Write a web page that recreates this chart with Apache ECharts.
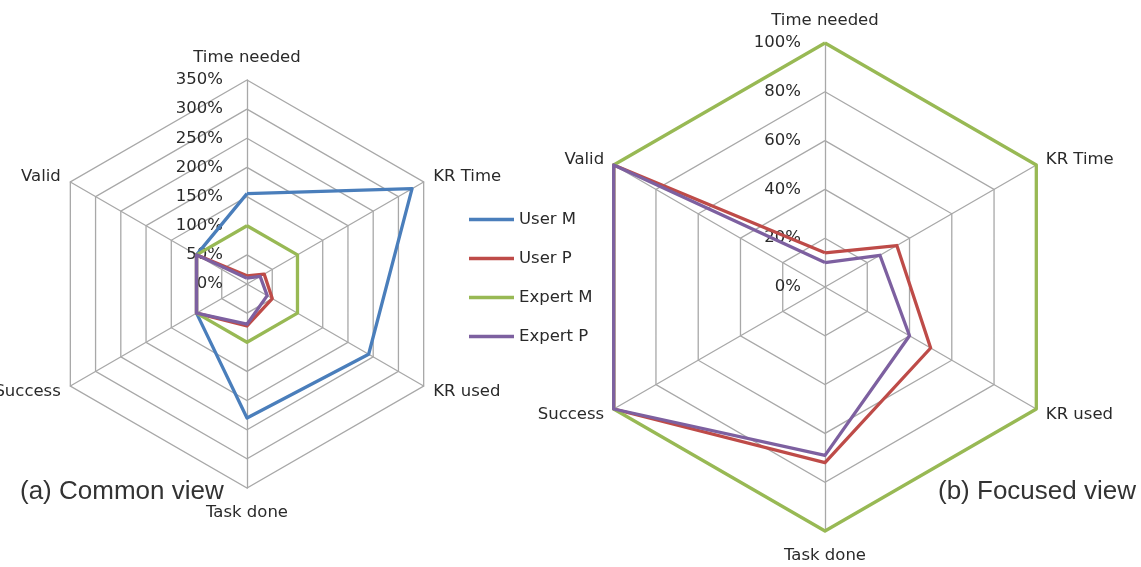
<!DOCTYPE html>
<html>
<head>
<meta charset="utf-8">
<script src="https://cdn.jsdelivr.net/npm/echarts@6/dist/echarts.min.js"></script>
<style>
html,body{margin:0;padding:0;background:#fff;}
#chart{width:1141px;height:567px;}
</style>
</head>
<body>
<div id="chart"></div>
<script>
// Axes, clockwise from the top
const categories = ['Time needed', 'KR Time', 'KR used', 'Task done', 'Success', 'Valid'];
const seriesNames = ['User M', 'User P', 'Expert M', 'Expert P'];

// (a) Common view, values in %
const commonUserM   = [155, 327, 241, 230, 100, 100];
const commonUserP   = [14, 34, 50, 72, 100, 100];
const commonExpertM = [100, 100, 100, 100, 100, 100];
const commonExpertP = [10, 26, 40, 69, 100, 100];

// (b) Focused view, values in %
const focusUserP   = [14, 34, 50, 72, 100, 100];
const focusExpertM = [100, 100, 100, 100, 100, 100];
const focusExpertP = [10, 26, 40, 69, 100, 100];

const commonMax = 350, commonSplit = 7;
const focusMax = 100, focusSplit = 5;

const colors = {
  'User M': '#4A7EBB',
  'User P': '#BE4B48',
  'Expert M': '#98B954',
  'Expert P': '#7D60A0'
};

// ECharts places indicators counter-clockwise; reorder to get the clockwise layout
const order = [0, 5, 4, 3, 2, 1];
const reorder = arr => order.map(i => arr[i]);

const font = '"DejaVu Sans", "Open Sans", sans-serif';
const textColor = '#2a2a2a';
const gridColor = '#A8A8A8';

function indicators(max) {
  return order.map((i, k) => {
    const ind = { name: categories[i], min: 0, max: max };
    if (k === 0) {
      ind.axisLabel = {
        show: true, formatter: '{value}%', margin: 24,
        color: textColor, fontSize: 16.5, fontFamily: font
      };
    }
    if (categories[i] === 'Time needed') ind.nameGap = 14;
    if (categories[i] === 'Task done') ind.nameGap = 16;
    return ind;
  });
}

function radarCfg(center, radius, max, split) {
  return {
    center: center, radius: radius, startAngle: 90, shape: 'polygon',
    splitNumber: split,
    indicator: indicators(max),
    nameGap: 11,
    axisName: { color: textColor, fontSize: 16.5, fontFamily: font },
    axisLine: { show: true, lineStyle: { color: gridColor, width: 1.3 } },
    splitLine: { show: true, lineStyle: { color: gridColor, width: 1.3 } },
    splitArea: { show: false },
    axisTick: { show: false },
    axisLabel: { show: false }
  };
}

function radarSeries(name, values, radarIndex) {
  return {
    type: 'radar', name: name, radarIndex: radarIndex,
    symbol: 'none', color: colors[name],
    lineStyle: { color: colors[name], width: 3.3 },
    itemStyle: { color: colors[name] },
    data: [{ name: name, value: reorder(values) }]
  };
}

const chart = echarts.init(document.getElementById('chart'), null, { renderer: 'canvas' });
chart.setOption({
  animation: false,
  backgroundColor: '#fff',
  title: [
    { text: '(a) Common view', left: 15, top: 474,
      textStyle: { fontSize: 26, fontWeight: 'normal', color: '#333', fontFamily: '"Liberation Sans", Arial, sans-serif' } },
    { text: '(b) Focused view', left: 933, top: 474,
      textStyle: { fontSize: 26, fontWeight: 'normal', color: '#333', fontFamily: '"Liberation Sans", Arial, sans-serif' } }
  ],
  legend: {
    orient: 'vertical', left: 464, top: 206,
    data: seriesNames,
    icon: 'rect', itemWidth: 45, itemHeight: 3.5, itemGap: 22,
    textStyle: { color: textColor, fontSize: 16.5, fontFamily: font },
    selectedMode: false
  },
  radar: [
    radarCfg([247, 284], 204, commonMax, commonSplit),
    radarCfg([825, 287], 244, focusMax, focusSplit)
  ],
  series: [
    radarSeries('User M', commonUserM, 0),
    radarSeries('User P', commonUserP, 0),
    radarSeries('Expert M', commonExpertM, 0),
    radarSeries('Expert P', commonExpertP, 0),
    radarSeries('User P', focusUserP, 1),
    radarSeries('Expert M', focusExpertM, 1),
    radarSeries('Expert P', focusExpertP, 1)
  ]
});
</script>
</body>
</html>
